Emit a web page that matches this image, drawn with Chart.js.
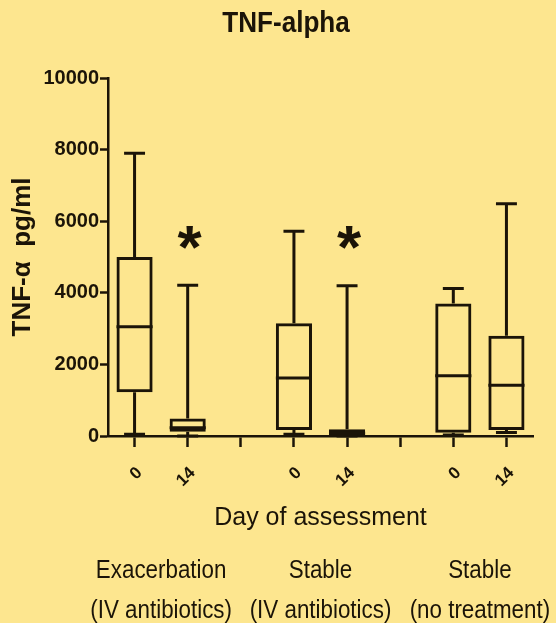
<!DOCTYPE html>
<html>
<head>
<meta charset="utf-8">
<title>TNF-alpha</title>
<script src="https://cdn.jsdelivr.net/npm/chart.js@4.4.1/dist/chart.umd.min.js"></script>
<style>
  html, body { margin: 0; padding: 0; background: #fde68f; }
  #wrap { width: 556px; height: 623px; position: relative; }
</style>
</head>
<body>
<div id="wrap"><canvas id="tnfChart"></canvas></div>
<script>
// TNF-alpha (pg/ml) at day 0 and day 14, three patient groups
const dayLabels = ['0', '14', '', '0', '14', '', '0', '14'];
const whiskerLow = [50, 0, null, 50, 0, null, 30, 100];
const quartile1 = [1220, 120, null, 170, 20, null, 90, 170];
const medians = [3050, 230, null, 1620, 80, null, 1680, 1420];
const quartile3 = [5000, 490, null, 3150, 190, null, 3700, 2800];
const whiskerHigh = [7900, 4210, null, 5720, 4200, null, 4120, 6490];
const significant = [false, true, false, false, true, false, false, false];
const groupNames = [
    ['Exacerbation', '(IV antibiotics)'],
    ['Stable', '(IV antibiotics)'],
    ['Stable', '(no treatment)']
];
const groupSlots = [[0, 1], [3, 4], [6, 7]];
const yTickValues = [0, 2000, 4000, 6000, 8000, 10000];

const INK = '#1b1408';
const PAPER = '#fde68f';
const FONT = '"Liberation Sans", Arial, Helvetica, sans-serif';

// condensed-looking text: squeeze horizontally around the centre point
function squeezedText(ctx, text, cx, y, sx) {
    ctx.save();
    ctx.translate(cx, y);
    ctx.scale(sx, 1);
    ctx.fillText(text, 0, 0);
    ctx.restore();
}

// whiskers, medians, significance marks and the extra text
const boxWhiskers = {
    id: 'boxWhiskers',
    beforeDraw(chart) {
        const { ctx, width, height } = chart;
        ctx.save();
        ctx.fillStyle = PAPER;
        ctx.fillRect(0, 0, width, height);
        ctx.restore();
    },
    afterDatasetsDraw(chart) {
        const { ctx } = chart;
        const y = chart.scales.y;
        const bars = chart.getDatasetMeta(0).data;

        ctx.save();
        ctx.strokeStyle = INK;
        ctx.lineWidth = 3;
        ctx.lineCap = 'butt';
        bars.forEach((bar, i) => {
            if (medians[i] == null) return;
            const x = bar.x;
            const half = bar.width / 2;
            const cap = bar.width * 0.29;
            const yLo = y.getPixelForValue(whiskerLow[i]);
            const yQ1 = y.getPixelForValue(quartile1[i]);
            const yMed = y.getPixelForValue(medians[i]);
            const yQ3 = y.getPixelForValue(quartile3[i]);
            const yHi = y.getPixelForValue(whiskerHigh[i]);

            ctx.beginPath();
            ctx.moveTo(x - half, yMed);
            ctx.lineTo(x + half, yMed);
            ctx.moveTo(x, yQ3);
            ctx.lineTo(x, yHi);
            ctx.moveTo(x - cap, yHi);
            ctx.lineTo(x + cap, yHi);
            ctx.moveTo(x, yQ1);
            ctx.lineTo(x, yLo);
            ctx.moveTo(x - cap, yLo);
            ctx.lineTo(x + cap, yLo);
            ctx.stroke();

            if (significant[i]) {
                ctx.fillStyle = INK;
                ctx.font = 'bold 62px ' + FONT;
                ctx.textAlign = 'center';
                ctx.textBaseline = 'alphabetic';
                const m = ctx.measureText('*');
                const mid = (m.actualBoundingBoxAscent - m.actualBoundingBoxDescent) / 2;
                ctx.fillText('*', x + 2, yHi - 48 + mid);
            }
        });
        ctx.restore();
    },
    afterDraw(chart) {
        const { ctx } = chart;
        const xs = chart.scales.x;

        ctx.save();
        ctx.fillStyle = INK;
        ctx.textAlign = 'center';
        ctx.textBaseline = 'alphabetic';

        ctx.font = 'bold 30px ' + FONT;
        squeezedText(ctx, 'TNF-alpha', 286, 32, 0.87);

        ctx.font = '26px ' + FONT;
        groupNames.forEach((lines, g) => {
            const [a, b] = groupSlots[g];
            const cx = (xs.getPixelForValue(a) + xs.getPixelForValue(b)) / 2;
            squeezedText(ctx, lines[0], cx, xs.bottom + 42, 0.86);
            squeezedText(ctx, lines[1], cx, xs.bottom + 82, 0.86);
        });
        ctx.restore();
    }
};

const ctx = document.getElementById('tnfChart').getContext('2d');

new Chart(ctx, {
    type: 'bar',
    data: {
        labels: dayLabels,
        datasets: [{
            label: 'TNF-alpha',
            data: dayLabels.map((_, i) => medians[i] == null ? null : [quartile1[i], quartile3[i]]),
            backgroundColor: 'rgba(0, 0, 0, 0)',
            borderColor: INK,
            borderWidth: 3,
            borderSkipped: false,
            barPercentage: 0.68,
            categoryPercentage: 1.0
        }]
    },
    options: {
        responsive: true,
        maintainAspectRatio: false,
        animation: false,
        layout: {
            padding: { top: 78, right: 23, bottom: 87, left: 0 }
        },
        plugins: {
            legend: { display: false },
            tooltip: { enabled: false },
            title: { display: false }
        },
        scales: {
            x: {
                grid: {
                    drawOnChartArea: false,
                    drawTicks: true,
                    offset: false,
                    tickLength: 11,
                    tickWidth: 2.5,
                    tickColor: INK
                },
                border: { color: INK, width: 2.5 },
                ticks: {
                    autoSkip: false,
                    minRotation: 45,
                    maxRotation: 45,
                    padding: 16,
                    labelOffset: 5,
                    color: INK,
                    font: { family: FONT, size: 17, weight: 'bold' }
                },
                title: {
                    display: true,
                    text: 'Day of assessment',
                    color: INK,
                    font: { family: FONT, size: 25 },
                    padding: { top: 0, bottom: 3 }
                },
                afterFit(scale) { scale.height = 100; }
            },
            y: {
                min: yTickValues[0],
                max: yTickValues[yTickValues.length - 1],
                grid: {
                    drawOnChartArea: false,
                    tickLength: 8,
                    tickWidth: 2.5,
                    tickColor: INK
                },
                border: { color: INK, width: 2.5 },
                ticks: {
                    stepSize: yTickValues[1] - yTickValues[0],
                    padding: 1,
                    color: INK,
                    font: { family: FONT, size: 20, weight: 'bold' },
                    callback: (value) => String(value)
                },
                title: {
                    display: true,
                    text: 'TNF-α  pg/ml',
                    color: INK,
                    font: { family: FONT, size: 26, weight: 'bold' },
                    padding: { top: 7, bottom: 0 }
                },
                afterFit(scale) { scale.width = 108; }
            }
        }
    },
    plugins: [boxWhiskers]
});
</script>
</body>
</html>
